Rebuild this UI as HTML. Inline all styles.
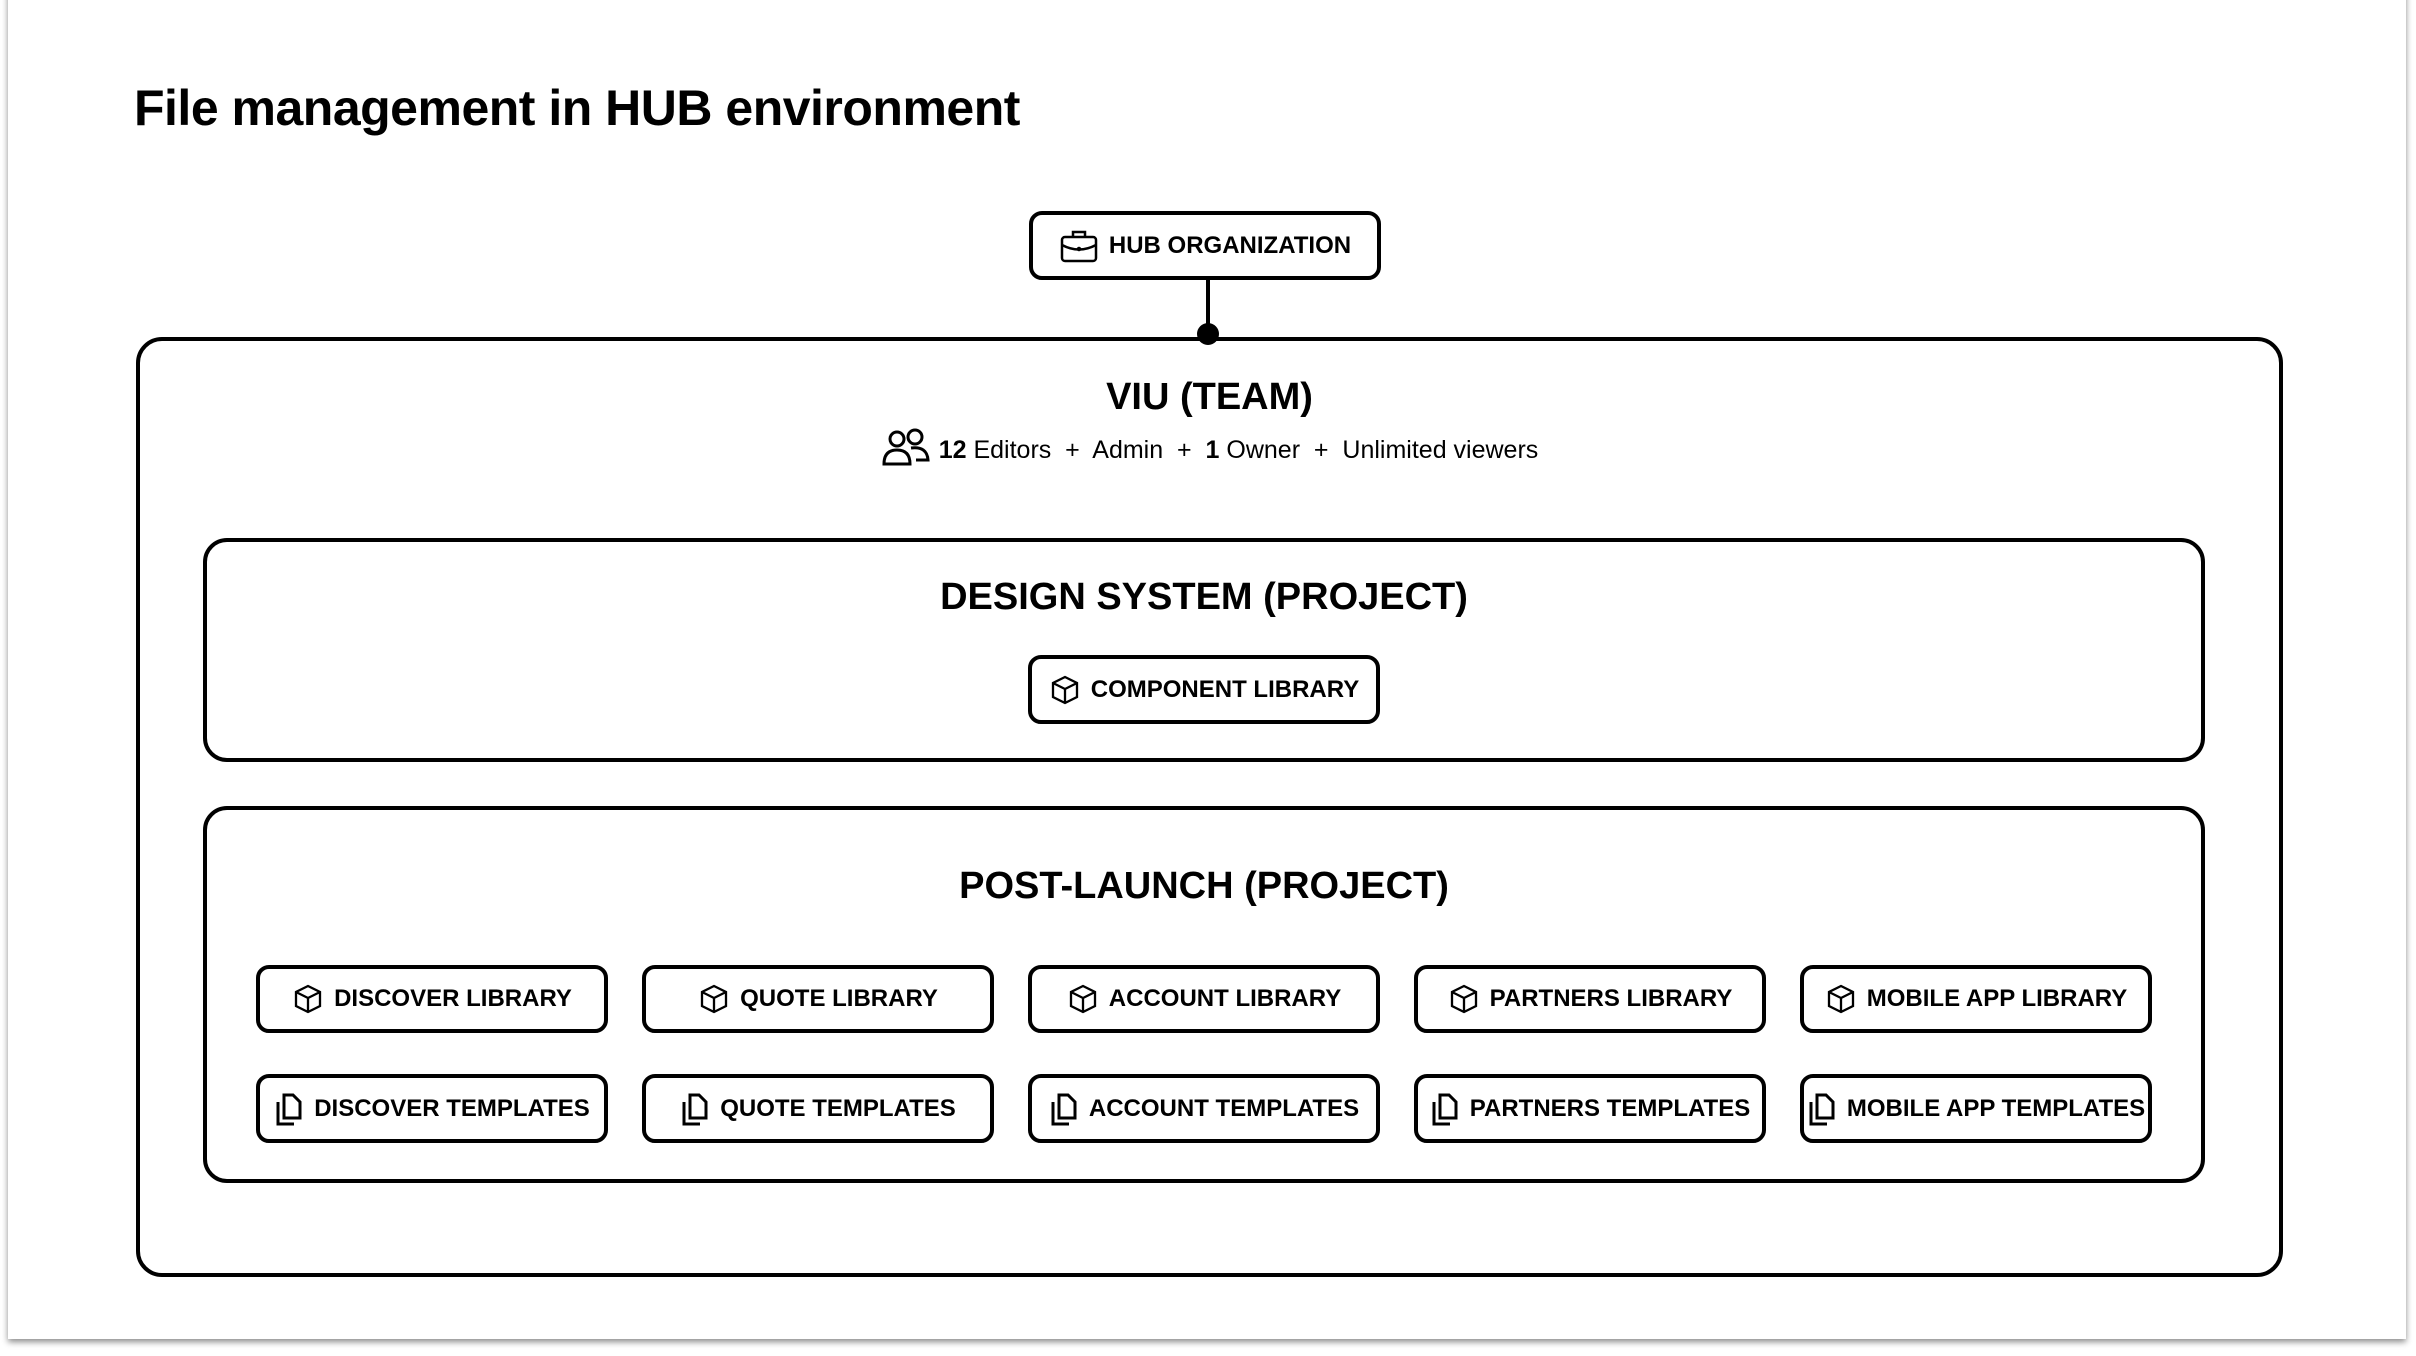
<!DOCTYPE html>
<html><head><meta charset="utf-8"><style>
body{margin:0;width:2416px;height:1356px;background:#fff;position:relative;overflow:hidden;font-family:"Liberation Sans",sans-serif;color:#000}
.card{position:absolute;left:8px;top:-10px;width:2398px;height:1349px;background:#fff;box-shadow:0 3px 6px rgba(0,0,0,.45)}
.abs{position:absolute;box-sizing:border-box}
.title{left:134px;top:79px;font-size:50px;font-weight:bold;letter-spacing:-0.5px;white-space:nowrap}
.box{border:4px solid #000;border-radius:13px;display:flex;align-items:center;justify-content:center;font-weight:bold;font-size:24px;white-space:nowrap;background:#fff}
.box svg{margin-right:10px;flex:none}
.big{border:4px solid #000;border-radius:24px}
.h{font-weight:bold;font-size:38px;text-align:center;white-space:nowrap}
</style></head><body>
<div class="card"></div>
<div class="abs title">File management in HUB environment</div>

<div class="abs big" style="left:136px;top:337px;width:2147px;height:940px;border-radius:26px"></div>
<div class="abs" style="left:1206px;top:279px;width:4px;height:56px;background:#000"></div>
<div class="abs" style="left:1197px;top:323px;width:22px;height:22px;border-radius:50%;background:#000"></div>

<div class="abs box" style="left:1029px;top:211px;width:352px;height:69px">
<svg width="40" height="36" viewBox="0 0 40 36" fill="none" stroke="#000" stroke-width="2.5"><rect x="3" y="9" width="34" height="24" rx="3"/><path d="M14 9V4h12v5M3 17q17 9 34 0"/><circle cx="20" cy="21" r="1" fill="#000"/></svg>HUB ORGANIZATION</div>

<div class="abs h" style="left:136px;width:2147px;top:376px">VIU (TEAM)</div>
<div class="abs" style="left:136px;width:2147px;top:428px;text-align:center;font-size:25px;white-space:nowrap">
<svg width="50" height="38" viewBox="0 0 50 38" fill="none" stroke="#000" stroke-width="3" style="vertical-align:-8px;margin-right:8px"><circle cx="16" cy="11" r="7"/><circle cx="34" cy="9" r="7"/><path d="M3 36q0-14 13-14t13 14zM30 20q16-2 17 12h-12"/></svg><b>12</b> Editors &nbsp;+&nbsp; Admin &nbsp;+&nbsp; <b>1</b> Owner &nbsp;+&nbsp; Unlimited viewers</div>

<div class="abs big" style="left:203px;top:538px;width:2002px;height:224px"></div>
<div class="abs h" style="left:203px;width:2002px;top:576px">DESIGN SYSTEM (PROJECT)</div>
<div class="abs box" style="left:1028px;top:655px;width:352px;height:69px">
<svg width="32" height="32" viewBox="0 0 32 32" fill="none" stroke="#000" stroke-width="2.3"><path d="M16 3l12 6v14l-12 6-12-6V9zM4 9l12 6 12-6M16 15v14"/></svg>COMPONENT LIBRARY</div>

<div class="abs big" style="left:203px;top:806px;width:2002px;height:377px"></div>
<div class="abs h" style="left:203px;width:2002px;top:865px">POST-LAUNCH (PROJECT)</div>

<div class="abs box" style="left:256px;top:965px;width:352px;height:68px"><svg width="32" height="32" viewBox="0 0 32 32" fill="none" stroke="#000" stroke-width="2.3"><path d="M16 3l12 6v14l-12 6-12-6V9zM4 9l12 6 12-6M16 15v14"/></svg>DISCOVER LIBRARY</div>
<div class="abs box" style="left:642px;top:965px;width:352px;height:68px"><svg width="32" height="32" viewBox="0 0 32 32" fill="none" stroke="#000" stroke-width="2.3"><path d="M16 3l12 6v14l-12 6-12-6V9zM4 9l12 6 12-6M16 15v14"/></svg>QUOTE LIBRARY</div>
<div class="abs box" style="left:1028px;top:965px;width:352px;height:68px"><svg width="32" height="32" viewBox="0 0 32 32" fill="none" stroke="#000" stroke-width="2.3"><path d="M16 3l12 6v14l-12 6-12-6V9zM4 9l12 6 12-6M16 15v14"/></svg>ACCOUNT LIBRARY</div>
<div class="abs box" style="left:1414px;top:965px;width:352px;height:68px"><svg width="32" height="32" viewBox="0 0 32 32" fill="none" stroke="#000" stroke-width="2.3"><path d="M16 3l12 6v14l-12 6-12-6V9zM4 9l12 6 12-6M16 15v14"/></svg>PARTNERS LIBRARY</div>
<div class="abs box" style="left:1800px;top:965px;width:352px;height:68px"><svg width="32" height="32" viewBox="0 0 32 32" fill="none" stroke="#000" stroke-width="2.3"><path d="M16 3l12 6v14l-12 6-12-6V9zM4 9l12 6 12-6M16 15v14"/></svg>MOBILE APP LIBRARY</div>

<div class="abs box" style="left:256px;top:1074px;width:352px;height:69px"><svg width="30" height="34" viewBox="0 0 30 34" fill="none" stroke="#000" stroke-width="3"><path d="M10 3h9l7 7v16H10zM4 10v22h16"/></svg>DISCOVER TEMPLATES</div>
<div class="abs box" style="left:642px;top:1074px;width:352px;height:69px"><svg width="30" height="34" viewBox="0 0 30 34" fill="none" stroke="#000" stroke-width="3"><path d="M10 3h9l7 7v16H10zM4 10v22h16"/></svg>QUOTE TEMPLATES</div>
<div class="abs box" style="left:1028px;top:1074px;width:352px;height:69px"><svg width="30" height="34" viewBox="0 0 30 34" fill="none" stroke="#000" stroke-width="3"><path d="M10 3h9l7 7v16H10zM4 10v22h16"/></svg>ACCOUNT TEMPLATES</div>
<div class="abs box" style="left:1414px;top:1074px;width:352px;height:69px"><svg width="30" height="34" viewBox="0 0 30 34" fill="none" stroke="#000" stroke-width="3"><path d="M10 3h9l7 7v16H10zM4 10v22h16"/></svg>PARTNERS TEMPLATES</div>
<div class="abs box" style="left:1800px;top:1074px;width:352px;height:69px"><svg width="30" height="34" viewBox="0 0 30 34" fill="none" stroke="#000" stroke-width="3"><path d="M10 3h9l7 7v16H10zM4 10v22h16"/></svg>MOBILE APP TEMPLATES</div>
</body></html>
